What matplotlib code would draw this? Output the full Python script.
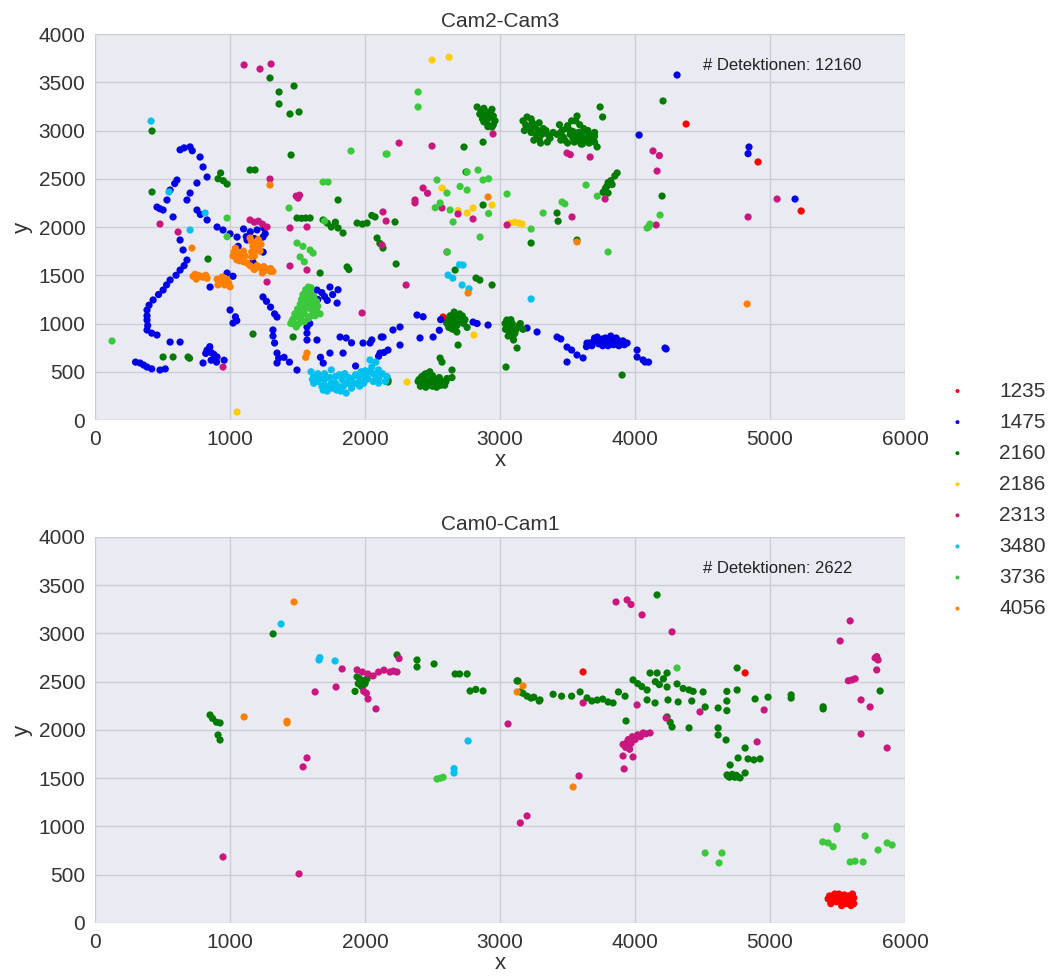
import matplotlib
matplotlib.use("Agg")
import matplotlib.pyplot as plt

plt.rcParams['font.family'] = ['Liberation Sans', 'DejaVu Sans']

# Track-IDs und Farben
ids = ["1235", "1475", "2160", "2186", "2313", "3480", "3736", "4056"]
colors = ["#ff0000", "#0000e6", "#007a00", "#ffcc00", "#c8177f", "#00c0f0", "#3cc83c", "#ff8000"]

# ---- Cam2-Cam3 ----
top_1235 = [(4378, 3067), (4911, 2674), (5230, 2166), (2578, 1067), (2590, 1050)]

top_1475 = [
    (630, 2800), (660, 2820), (704, 2830), (720, 2790), (778, 2725), (800, 2622), (830, 2518),
    (755, 2456), (704, 2352), (681, 2280), (607, 2487), (590, 2450), (556, 2383), (533, 2280),
    (459, 2207), (480, 2190), (504, 2176), (578, 2104), (755, 2176), (780, 2130), (830, 2073),
    (904, 2000), (948, 1969), (1000, 1930), (1052, 1896), (1126, 1865), (1180, 1880), (1244, 1896),
    (1260, 1930), (630, 1865), (652, 1762), (681, 1658), (660, 1600), (630, 1554), (600, 1500),
    (556, 1451), (530, 1400), (504, 1347), (470, 1300), (430, 1244), (400, 1190), (385, 1140),
    (385, 1080), (385, 1036), (390, 980), (385, 933), (420, 900), (459, 881), (333, 591),
    (360, 570), (385, 549), (420, 530), (481, 518), (520, 530), (300, 600), (556, 808), (630, 808),
    (800, 591), (830, 725), (860, 700), (880, 680), (904, 653), (860, 620), (956, 620), (900, 600),
    (850, 760), (820, 690), (1000, 1140), (1022, 1005), (1040, 1070), (1050, 1030), (978, 1523),
    (1022, 1490), (852, 1378), (1100, 1980), (1150, 1950), (1200, 1970), (1250, 1990), (1120, 1900),
    (1060, 1800), (1170, 1637), (1245, 1740), (1290, 1554),
    (1244, 1275), (1270, 1230), (1300, 1170), (1330, 1100), (1348, 1067), (1318, 933), (1318, 870),
    (1330, 798), (1348, 694), (1360, 640), (1348, 591), (1400, 650), (1440, 600), (1496, 518),
    (1570, 964), (1570, 900), (1570, 829), (1590, 1000), (1644, 829), (1670, 650), (1690, 590),
    (1740, 694), (1837, 694), (1815, 860), (1860, 850), (1900, 800), (1985, 798), (2050, 830),
    (2120, 860), (2140, 700), (2100, 660), (1930, 560), (1644, 1347), (1680, 1320), (1700, 1280),
    (1650, 1250), (1740, 1378), (1800, 1350), (1760, 1300), (1793, 1212), (1720, 1240),
    (2037, 798), (2133, 860), (2207, 933), (2259, 964), (2111, 694), (2170, 725), (2259, 777),
    (2407, 850), (2385, 1088), (2430, 1070), (2504, 860), (2550, 930), (2607, 1005), (2560, 1040),
    (2704, 1057), (2800, 1015), (2830, 1000), (2911, 984), (3200, 953), (3274, 912), (3422, 860),
    (3450, 840), (3496, 756), (3530, 725), (3570, 674), (3615, 643), (3496, 601),
    (3644, 798), (3700, 820), (3750, 800), (3800, 810), (3850, 800), (3900, 790), (3941, 798),
    (3720, 860), (3780, 850), (3820, 870), (3860, 850), (3920, 780), (3680, 770), (3760, 770),
    (3670, 800), (3730, 790), (3780, 830), (3830, 830), (3880, 820), (3910, 820), (3700, 850),
    (3760, 840), (3840, 780), (3800, 770), (3640, 760), (3880, 770),
    (4015, 725), (4015, 653), (4059, 622), (4074, 601), (4100, 600), (4222, 746), (4230, 736),
    (4311, 3575), (4030, 2953), (4844, 2829), (4837, 2760), (5185, 2290)]

top_2160 = [
    (1296, 3544), (1363, 3399), (1474, 3461), (1363, 3275), (1444, 3171), (1511, 3192), (422, 2995),
    (1452, 2746), (1148, 2591), (1185, 2591), (422, 2363), (911, 2500), (930, 2560), (950, 2480),
    (978, 2445), (1800, 2280), (1496, 2093), (1530, 2090), (1560, 2093), (1593, 2093), (1689, 2073),
    (1720, 2040), (1750, 2000), (1780, 2050), (1800, 1990), (1837, 1938), (1941, 2041), (1980, 2030),
    (2015, 2041), (2050, 2120), (2074, 2104), (2222, 2052),
    (2830, 3244), (2860, 3200), (2890, 3150), (2930, 3180), (2963, 3100), (2900, 3080), (2940, 3036),
    (2880, 3230), (2850, 3170), (2870, 3120), (2900, 3190), (2920, 3130), (2950, 3060), (2910, 3040),
    (2940, 3220), (2880, 3090), (2950, 3150),
    (3170, 3100), (3200, 3140), (3240, 3080), (3280, 3000), (3320, 3020), (3360, 2950),
    (3393, 2980), (3250, 2900), (3300, 2870), (3220, 3020), (3190, 3060), (3230, 3120), (3260, 3040),
    (3290, 3080), (3310, 2960), (3340, 3000), (3370, 2920), (3270, 2950), (3230, 2980), (3180, 3000),
    (3350, 2880), (3290, 2910),
    (3422, 2960), (3460, 3000), (3500, 3050), (3540, 2920), (3580, 2980), (3620, 2900), (3660, 2950),
    (3700, 2880), (3719, 2830), (3480, 2900), (3560, 3100), (3600, 2860), (3650, 3000), (3700, 2940),
    (3440, 3060), (3500, 2870), (3450, 2980), (3470, 2930), (3520, 2960), (3520, 3000), (3560, 2940),
    (3600, 2950), (3620, 2990), (3640, 2920), (3680, 2920), (3660, 2870), (3610, 2860), (3550, 2880),
    (3700, 2980), (3490, 3020), (3530, 3100), (3590, 3060), (3450, 2900), (3580, 2900), (3620, 3020),
    (3540, 2990),
    (3741, 3244), (3760, 3140), (3570, 3150), (2733, 2829), (2874, 2880), (4207, 3306),
    (3763, 2360), (3790, 2420), (3820, 2480), (3850, 2530), (3867, 2560), (3800, 2352), (3780, 2400),
    (3830, 2440), (3800, 2460),
    (4200, 2321), (3422, 2145), (3430, 2060), (3230, 1834), (2748, 2570), (2874, 2228),
    (2089, 1886), (2110, 1830), (2133, 1782), (2230, 1617), (2667, 1554), (2822, 1471), (2850, 1450),
    (2941, 1399), (2607, 1000), (2630, 1080), (2660, 1119), (2700, 1050), (2730, 1000), (2756, 960),
    (2640, 950), (2680, 912), (2700, 1100), (2620, 1040), (2650, 1000), (2680, 980), (2710, 1020),
    (2740, 1040), (2660, 1060), (2690, 1010), (2620, 960), (2720, 1080), (2650, 940),
    (2689, 777), (2556, 642), (2570, 600),
    (2393, 400), (2420, 450), (2450, 480), (2480, 420), (2510, 380), (2540, 360), (2570, 400),
    (2607, 430), (2450, 340), (2500, 350), (2420, 380), (2550, 440), (2590, 360), (2400, 420),
    (2430, 410), (2460, 400), (2490, 380), (2520, 420), (2550, 400), (2580, 380), (2470, 360),
    (2530, 340), (2560, 360), (2600, 400), (2440, 470), (2500, 460), (2480, 500), (2410, 350),
    (2644, 518), (2644, 440), (2170, 394),
    (3037, 1000), (3050, 1036), (3080, 950), (3110, 900), (3140, 980), (3170, 940), (3060, 870),
    (3100, 829), (3060, 980), (3090, 1000), (3120, 940), (3070, 920), (3100, 880), (3150, 1000),
    (3040, 940), (3080, 1040), (3126, 746), (3044, 549), (3904, 466),
    (504, 653), (578, 653), (689, 653), (700, 640), (1170, 891), (1467, 860), (1667, 1523),
    (1867, 1586), (1880, 1560), (837, 1668), (2170, 415), (3570, 1865)]

top_2186 = [(2496, 3730), (2622, 3760), (2570, 2404), (2756, 2145), (2800, 2197), (2689, 2170),
            (2941, 2228), (3074, 2040), (3110, 2050), (3140, 2040), (3163, 2031), (2807, 881),
            (2311, 394), (1052, 83)]

top_2313 = [
    (1104, 3679), (1222, 3637), (1304, 3689), (1296, 2497), (1490, 2320), (1504, 2300), (1515, 2330),
    (481, 2031), (615, 1948), (1148, 2073), (1180, 2050), (1210, 2060), (1240, 2030), (1274, 2000),
    (1444, 1990), (1570, 2000), (2133, 2156), (2156, 2062), (2948, 2964), (2252, 2870), (2496, 2839),
    (3496, 2767), (3520, 2750), (3667, 2725), (3778, 2290), (2430, 2404), (2463, 2350), (2370, 2280),
    (2370, 2250), (2570, 2197), (2689, 2135), (2800, 2083), (3533, 2104), (3052, 2021), (4133, 2788),
    (4180, 2740), (4163, 2580), (5052, 2290), (4837, 2104), (4156, 2021), (1444, 1596), (1570, 1554),
    (1274, 1430), (1978, 1109), (948, 549), (2304, 1399), (2126, 1813), (2607, 1741)]

top_3480 = [
    (415, 3098), (548, 2363), (704, 1969), (815, 2145), (2726, 1606), (2700, 1610), (2615, 1502),
    (2650, 1470), (2719, 1399), (2770, 1360), (3230, 1254),
    (1600, 500), (1620, 450), (1650, 400), (1680, 350), (1700, 420), (1720, 300), (1750, 380),
    (1780, 450), (1800, 350), (1830, 420), (1850, 480), (1870, 380), (1900, 430), (1930, 470),
    (1960, 400), (2000, 450), (2030, 500), (2060, 480), (2100, 430), (2130, 480), (2150, 400),
    (1650, 480), (1700, 480), (1760, 330), (1820, 300), (1900, 330), (1970, 500), (2050, 550),
    (2037, 622), (2080, 600), (2100, 520), (2163, 450), (2010, 420), (1610, 420), (1750, 520),
    (2100, 383), (1860, 280), (1620, 380), (1670, 430), (1700, 360), (1740, 440), (1780, 380),
    (1810, 470), (1840, 350), (1880, 440), (1920, 380), (1950, 450), (1990, 380), (2020, 430),
    (2060, 400), (2080, 460), (2120, 470), (1690, 310), (1730, 340), (1790, 310), (1960, 350),
    (2000, 510)]

top_3736 = [
    (2393, 3399), (2393, 3244), (2163, 2756), (1896, 2788), (2156, 2756), (1689, 2466), (1726, 2466),
    (1437, 2197), (1700, 2062), (978, 2093), (2533, 2487), (2607, 2352), (2556, 2249), (2520, 2200),
    (2630, 2176), (2652, 2052), (2756, 2383), (2756, 2570), (2837, 2590), (2874, 2487), (2915, 2500),
    (2704, 2420), (2852, 1896), (3052, 2342), (3319, 2145), (3459, 2259), (3480, 2240), (3637, 2435),
    (3720, 2320), (2915, 2140), (4100, 2000), (4185, 2124), (3230, 1979), (4089, 1990), (4110, 2030),
    (3800, 1741), (1450, 1000), (1470, 1050), (1480, 1100), (1500, 1150), (1520, 1200), (1530, 1250),
    (1540, 1300), (1560, 1350), (1580, 1378), (1600, 1300), (1610, 1250), (1620, 1200), (1640, 1150),
    (1667, 1100), (1550, 1100), (1580, 1050), (1510, 1000), (1490, 964), (1600, 1150), (1560, 1200),
    (1530, 1150), (1630, 1080), (1460, 1030), (1490, 1080), (1510, 1120), (1540, 1180), (1570, 1240),
    (1590, 1200), (1560, 1300), (1590, 1340), (1620, 1280), (1650, 1180), (1600, 1080), (1520, 1060),
    (1550, 1020), (1480, 990), (1620, 1120), (1570, 1160), (1540, 1230), (1500, 1100), (1640, 1230),
    (1600, 1370), (1496, 1834), (1540, 1800), (1593, 1762), (1519, 1690), (1615, 1730),
    (1550, 1640), (126, 819), (978, 1900), (2610, 1741)]

top_4056 = [
    (1296, 2435), (1022, 1700), (1040, 1780), (1070, 1650), (1100, 1750), (1126, 1627), (1060, 1700),
    (1090, 1680), (1148, 1886), (1170, 1800), (1200, 1850), (1222, 1750), (1180, 1700), (1160, 1690),
    (1210, 1800), (1148, 1600), (1180, 1560), (1220, 1580), (1260, 1550), (1300, 1570), (1318, 1540),
    (1240, 1523), (1030, 1740), (1050, 1660), (1080, 1720), (1110, 1700), (1100, 1640), (1050, 1750),
    (1160, 1850), (1190, 1760), (1210, 1870), (1180, 1830), (1230, 1820), (1160, 1740), (1170, 1580),
    (1200, 1600), (1280, 1560), (1250, 1590), (1300, 1540),
    (726, 1490), (760, 1500), (800, 1480), (830, 1470), (750, 1460), (740, 1510), (780, 1490),
    (820, 1500), (904, 1460), (930, 1420), (960, 1400), (1000, 1380), (940, 1482), (980, 1450),
    (920, 1440), (950, 1440), (990, 1420), (960, 1470), (910, 1400),
    (1570, 694), (1560, 650), (718, 1782), (2911, 2311), (3570, 1845), (2763, 1316), (4830, 1202)]

# ---- Cam0-Cam1 ----
bot_1235 = [(3615, 2601), (4815, 2591), (5430, 250), (5460, 280), (5490, 220), (5510, 300),
            (5540, 250), (5560, 200), (5580, 280), (5600, 180), (5620, 260), (5450, 200),
            (5500, 260), (5530, 180), (5570, 240), (5610, 300), (5470, 240), (5590, 220),
            (5440, 280), (5480, 300), (5520, 230), (5550, 290), (5580, 200), (5620, 200),
            (5530, 270), (5600, 260)]

bot_1475 = []

bot_2160 = [
    (1319, 2995), (852, 2155), (870, 2120), (900, 2080), (926, 2073), (911, 1948), (926, 1896),
    (2237, 2777), (2385, 2725), (2385, 2653), (2511, 2684), (2667, 2580), (2700, 2580), (2756, 2580),
    (2778, 2404), (2820, 2420), (2874, 2404), (1941, 2550), (1970, 2500), (2000, 2480), (2015, 2530),
    (1980, 2445), (1926, 2400), (1960, 2530), (1990, 2510), (1950, 2480), (2000, 2500), (1970, 2460),
    (3126, 2508), (3170, 2380), (3230, 2330), (3290, 2300),
    (3133, 2508), (3150, 2394), (3200, 2350), (3250, 2340), (3296, 2311), (3393, 2370), (3456, 2350),
    (3530, 2350), (3593, 2394), (3644, 2332), (3680, 2300), (3720, 2310), (3760, 2320), (3800, 2290),
    (3837, 2280), (3877, 2394), (3926, 2350), (3985, 2518), (4020, 2480), (4050, 2450), (4089, 2414),
    (4111, 2590), (4150, 2500), (4180, 2470), (4210, 2530), (4237, 2445), (4163, 2590), (4237, 2590),
    (4311, 2477), (4356, 2430), (4400, 2415), (4430, 2400), (4504, 2394), (4089, 2311), (4148, 2280),
    (4244, 2311), (4319, 2290), (4420, 2300), (4519, 2238), (4615, 2228), (4680, 2400), (4680, 2300),
    (4680, 2200), (4756, 2414), (4889, 2321), (4985, 2340), (3933, 2093), (4237, 2135), (4260, 2080),
    (4274, 2031), (4400, 2021), (4615, 2021), (4615, 1948), (4674, 1896), (4815, 1813), (4763, 1710),
    (4704, 1637), (4837, 1700), (4880, 1690), (4926, 1700), (4681, 1534), (4710, 1520), (4740, 1510),
    (4778, 1503), (4815, 1554), (4690, 1520), (4720, 1540), (4750, 1530), (4700, 1510), (4760, 1515),
    (4163, 3399), (4756, 2642), (5815, 2404), (5156, 2363), (5156, 2330),
    (5393, 2218), (5393, 2240)]

bot_2186 = []

bot_2313 = [
    (1830, 2632), (1785, 2445), (1630, 2394), (1941, 2622), (1980, 2600), (2020, 2580), (2060, 2560),
    (2100, 2600), (2140, 2620), (2185, 2600), (2210, 2610), (2237, 2600), (2022, 2321), (2081, 2218),
    (1990, 2400), (2010, 2380), (2252, 2740), (1570, 1710), (1541, 1617), (948, 684), (1511, 508),
    (3059, 2062), (3200, 1109), (3150, 1036), (3859, 3326), (3941, 3347), (3970, 3300), (4052, 3192),
    (4274, 3016), (5593, 3130), (5519, 2922), (5778, 2746), (5790, 2760), (5800, 2725), (5790, 2622),
    (5607, 2518), (5630, 2530), (5580, 2510), (5674, 2311), (5741, 2238), (5674, 1958), (5867, 1813),
    (4956, 2207), (4904, 1876), (4481, 2187), (4230, 2124), (4015, 2259), (3615, 2280), (3911, 1850),
    (3950, 1900), (3980, 1930), (4020, 1950), (4060, 1969), (4111, 1969), (3930, 1820), (3960, 1800),
    (3940, 1870), (4000, 1900), (4040, 1930), (3970, 1860), (4080, 1960),
    (3985, 1720), (3911, 1730), (3919, 1596), (3585, 1523)]

bot_3480 = [(1378, 3098), (1659, 2725), (1665, 2750), (1778, 2715), (2763, 1886), (2659, 1554), (2659, 1600)]

bot_3736 = [(2533, 1492), (2560, 1500), (2578, 1510), (4311, 2642), (4519, 725), (4644, 725),
            (4622, 622), (5496, 974), (5496, 1000), (5430, 829), (5467, 790), (5390, 840), (5593, 632),
            (5630, 640), (5689, 632), (5704, 902), (5800, 756), (5867, 829), (5904, 808)]

bot_4056 = [(1474, 3326), (1104, 2135), (1422, 2073), (1422, 2090), (3126, 2394), (3170, 2456), (3541, 1409)]

top_series = [top_1235, top_1475, top_2160, top_2186, top_2313, top_3480, top_3736, top_4056]
bot_series = [bot_1235, bot_1475, bot_2160, bot_2186, bot_2313, bot_3480, bot_3736, bot_4056]
n_top = 12160
n_bot = 2622


def draw(ax, series, title, n_det):
    handles = []
    for pts, name, c in zip(series, ids, colors):
        if pts:
            xs, ys = zip(*pts)
        else:
            xs, ys = [], []
        h = ax.scatter(xs, ys, s=27, color=c, edgecolors='none', label=name)
        handles.append(h)
    ax.set_facecolor('#eaeaf2')
    ax.grid(True, color='#cdcdd4', linewidth=1)
    ax.set_axisbelow(True)
    for sp in ax.spines.values():
        sp.set_visible(False)
    ax.set_xlim(0, 6000)
    ax.set_ylim(0, 4000)
    ax.set_xticks(range(0, 6001, 1000))
    ax.set_yticks(range(0, 4001, 500))
    ax.tick_params(length=0, labelsize=15, labelcolor='#333333', pad=7)
    ax.set_title(title, fontsize=15, color='#333333', pad=5)
    ax.set_xlabel('x', fontsize=16, color='#333333', labelpad=1)
    ax.set_ylabel('y', fontsize=16, color='#333333', labelpad=4)
    ax.text(4500, 3670, '# Detektionen: %d' % n_det, fontsize=12, color='#222222', va='center')
    return handles


fig = plt.figure(figsize=(10.49, 9.80), dpi=100)
ax1 = fig.add_axes([0.0906, 0.5714, 0.7722, 0.3939])
ax2 = fig.add_axes([0.0906, 0.0582, 0.7722, 0.3939])

handles = draw(ax1, top_series, 'Cam2-Cam3', n_top)
draw(ax2, bot_series, 'Cam0-Cam1', n_bot)

fig.legend(handles, ids, loc='center left', bbox_to_anchor=(0.875, 0.49), frameon=False,
           fontsize=15, markerscale=0.55, handletextpad=1.0, labelspacing=0.58, labelcolor='#333333')

fig.savefig('out.png', dpi=100)
